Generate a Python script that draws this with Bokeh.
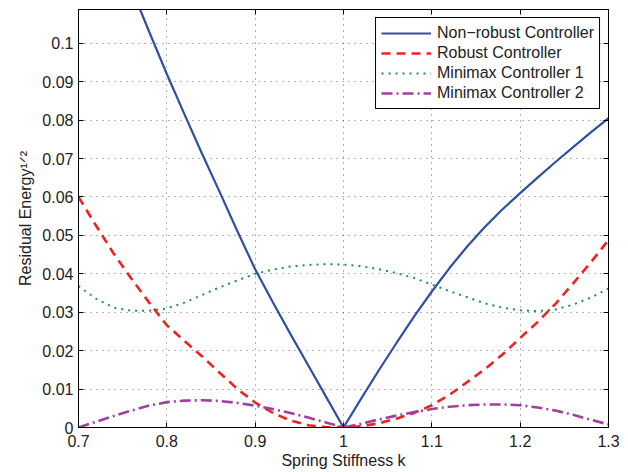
from bokeh.plotting import figure
from bokeh.models import Range1d, FixedTicker, LinearAxis, Legend, LegendItem
from bokeh.embed import file_html
from bokeh.resources import INLINE

# ---------------- data ----------------
k = [0.70, 0.72, 0.74, 0.76, 0.78, 0.80, 0.82, 0.84, 0.86, 0.88, 0.90,
     0.92, 0.94, 0.96, 0.98, 1.00, 1.02, 1.04, 1.06, 1.08, 1.10, 1.12,
     1.14, 1.16, 1.18, 1.20, 1.22, 1.24, 1.26, 1.28, 1.30]

k_nonrobust = [0.769, 0.78, 0.80, 0.82, 0.84, 0.86, 0.88, 0.90, 0.92, 0.94,
               0.96, 0.98, 1.00, 1.02, 1.04, 1.06, 1.08, 1.10, 1.12, 1.14,
               1.16, 1.18, 1.20, 1.22, 1.24, 1.26, 1.28, 1.30]
nonrobust = [0.1092, 0.1030, 0.0920, 0.0815, 0.0712, 0.0612, 0.0510, 0.0412,
             0.0326, 0.0243, 0.0162, 0.0081, 0.0000, 0.0075, 0.0149, 0.0220,
             0.0289, 0.0354, 0.0415, 0.0471, 0.0522, 0.0568, 0.0610, 0.0651,
             0.0691, 0.0730, 0.0768, 0.0805]

robust = [0.0600, 0.0525, 0.0452, 0.0387, 0.0325, 0.0266, 0.0225, 0.0185,
          0.0142, 0.0100, 0.0065, 0.0038, 0.0018, 0.0006, 0.0001, 0.0000,
          0.0003, 0.0011, 0.0023, 0.0038, 0.0058, 0.0085, 0.0118, 0.0152,
          0.0190, 0.0233, 0.0275, 0.0322, 0.0375, 0.0430, 0.0488]

minimax1 = [0.0368, 0.0335, 0.0312, 0.0304, 0.0304, 0.0310, 0.0325, 0.0345,
            0.0365, 0.0383, 0.0400, 0.0411, 0.0419, 0.0423, 0.0425, 0.0424,
            0.0420, 0.0412, 0.0402, 0.0389, 0.0372, 0.0355, 0.0339, 0.0323,
            0.0312, 0.0305, 0.0303, 0.0307, 0.0320, 0.0338, 0.0362]

minimax2 = [0.0000, 0.0015, 0.0030, 0.0044, 0.0057, 0.0066, 0.0070, 0.0071,
            0.0069, 0.0064, 0.0057, 0.0048, 0.0038, 0.0026, 0.0013, 0.0000,
            0.0010, 0.0021, 0.0031, 0.0040, 0.0048, 0.0054, 0.0058, 0.0060,
            0.0060, 0.0058, 0.0052, 0.0044, 0.0033, 0.0020, 0.0008]

series_names = ["Non\u2212robust Controller", "Robust Controller",
                "Minimax Controller 1", "Minimax Controller 2"]

x_ticks = [0.7, 0.8, 0.9, 1.0, 1.1, 1.2, 1.3]
x_tick_labels = ["0.7", "0.8", "0.9", "1", "1.1", "1.2", "1.3"]
y_ticks = [0.0, 0.01, 0.02, 0.03, 0.04, 0.05, 0.06, 0.07, 0.08, 0.09, 0.1]
y_tick_labels = ["0", "0.01", "0.02", "0.03", "0.04", "0.05", "0.06",
                 "0.07", "0.08", "0.09", "0.1"]

x_title = "Spring Stiffness k"
y_title = "Residual Energy\u00b9\u141f\u00b2"

# ---------------- figure ----------------
FONT = "Liberation Sans"
TXT = "#222222"

p = figure(width=628, height=472, output_backend="svg", toolbar_location=None,
           x_range=Range1d(0.7, 1.3), y_range=Range1d(0, 0.1088),
           min_border_left=78, min_border_right=20, min_border_top=9,
           min_border_bottom=45, background_fill_color="white",
           border_fill_color="white")

p.outline_line_color = "black"
p.outline_line_width = 1
p.outline_line_alpha = 1

for ax, ticks, labels in ((p.xaxis[0], x_ticks, x_tick_labels),
                          (p.yaxis[0], y_ticks, y_tick_labels)):
    ax.ticker = FixedTicker(ticks=ticks)
    ax.major_label_overrides = {t: l for t, l in zip(ticks, labels)}
    ax.major_tick_in = 5
    ax.major_tick_out = 0
    ax.minor_tick_in = 0
    ax.minor_tick_out = 0
    ax.axis_line_color = "black"
    ax.major_tick_line_color = "black"
    ax.major_label_text_font = FONT
    ax.major_label_text_font_size = "16px"
    ax.major_label_text_color = TXT
    ax.axis_label_text_font = FONT
    ax.axis_label_text_font_size = "16px"
    ax.axis_label_text_font_style = "normal"
    ax.axis_label_text_color = TXT

p.xaxis[0].major_label_standoff = 7
p.xaxis[0].axis_label = x_title
p.xaxis[0].axis_label_standoff = 2
p.yaxis[0].major_label_standoff = 5
p.yaxis[0].axis_label = y_title
p.yaxis[0].axis_label_standoff = 5

# mirrored ticks on top and right (box on)
for side, ticks in (("above", x_ticks), ("right", y_ticks)):
    ax = LinearAxis(ticker=FixedTicker(ticks=ticks))
    ax.major_label_overrides = {t: "" for t in ticks}
    ax.major_label_standoff = 0
    ax.major_tick_in = 5
    ax.major_tick_out = 0
    ax.minor_tick_in = 0
    ax.minor_tick_out = 0
    ax.axis_line_color = "black"
    ax.major_tick_line_color = "black"
    p.add_layout(ax, side)

for g, ticks in ((p.xgrid[0], x_ticks), (p.ygrid[0], y_ticks)):
    g.ticker = FixedTicker(ticks=ticks)
    g.grid_line_color = "#444444"
    g.grid_line_dash = "1 5"
    g.grid_line_width = 1
    g.grid_line_alpha = 0.8

r1 = p.line(k_nonrobust, nonrobust, line_color="#2f4fa6", line_width=2.2)
r2 = p.line(k, robust, line_color="#ee2222", line_width=2.6, line_dash="9 6")
r3 = p.line(k, minimax1, line_color="#1f8f50", line_width=2.0, line_dash="2 5")
r4 = p.line(k, minimax2, line_color="#a0409e", line_width=2.6, line_dash="11 4 2 4")

legend = Legend(items=[LegendItem(label=n, renderers=[r])
                       for n, r in zip(series_names, (r1, r2, r3, r4))],
                location="top_right")
legend.margin = 8
legend.padding = 5
legend.spacing = 0
legend.label_height = 20
legend.glyph_height = 20
legend.glyph_width = 50
legend.label_standoff = 6
legend.label_text_font = FONT
legend.label_text_font_size = "16px"
legend.label_text_color = TXT
legend.border_line_color = "black"
legend.border_line_width = 1
legend.border_line_alpha = 1
legend.background_fill_alpha = 1
p.add_layout(legend)

open("out.html", "w").write(file_html(p, INLINE))
